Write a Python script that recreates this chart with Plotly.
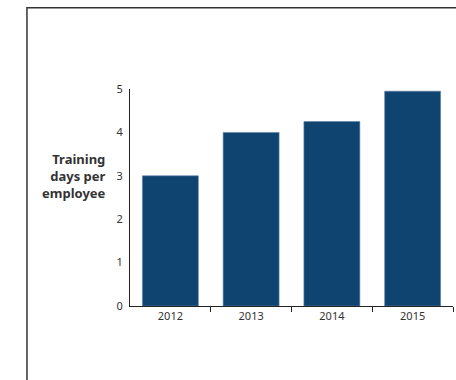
import plotly.graph_objects as go

years = ["2012", "2013", "2014", "2015"]
training_days = [3.0, 4.0, 4.25, 4.95]
y_ticks = [0, 1, 2, 3, 4, 5]

positions = list(range(len(years)))
# tick marks sit between categories and at the right end, not at the origin
boundaries = [p + 0.5 for p in positions]

fig = go.Figure(
    go.Bar(
        x=positions,
        y=training_days,
        marker=dict(color="#0f4470", line=dict(color="#5f82a8", width=0.6)),
        hoverinfo="skip",
    )
)

font_family = "Noto Sans, Open Sans, sans-serif"

fig.update_layout(
    width=456,
    height=380,
    margin=dict(l=130, r=3, t=89, b=74),
    paper_bgcolor="white",
    plot_bgcolor="white",
    bargap=0.307,
    showlegend=False,
    font=dict(family=font_family, size=11, color="#333333"),
    xaxis=dict(
        range=[-0.5, 3.5],
        tickvals=positions,
        ticktext=years,
        showline=True,
        linecolor="#222222",
        linewidth=1,
        ticks="",
        minor=dict(
            tickvals=boundaries,
            ticks="outside",
            ticklen=5,
            tickcolor="#222222",
            tickwidth=1,
            showgrid=False,
        ),
        showgrid=False,
        zeroline=False,
        tickfont=dict(size=11, color="#333333"),
    ),
    yaxis=dict(
        range=[0, 5],
        tickvals=y_ticks,
        showline=True,
        linecolor="#222222",
        linewidth=1,
        ticks="",
        showgrid=False,
        zeroline=False,
        ticklabelstandoff=4,
        tickfont=dict(size=11, color="#333333"),
    ),
    annotations=[
        dict(
            text="<b>Training<br>days per<br>employee</b>",
            xref="paper",
            yref="paper",
            x=-0.068,
            y=0.6,
            xanchor="right",
            yanchor="middle",
            align="right",
            showarrow=False,
            font=dict(family=font_family, size=13, color="#333333"),
        )
    ],
    shapes=[
        # outer frame running off the right and bottom edges
        dict(
            type="rect",
            xref="paper",
            yref="paper",
            x0=-0.319,
            x1=1.2,
            y0=-0.6,
            y1=1.375,
            line=dict(color="#333333", width=1.5),
            fillcolor="rgba(0,0,0,0)",
            layer="below",
        )
    ],
)

fig.write_html("out.html")
